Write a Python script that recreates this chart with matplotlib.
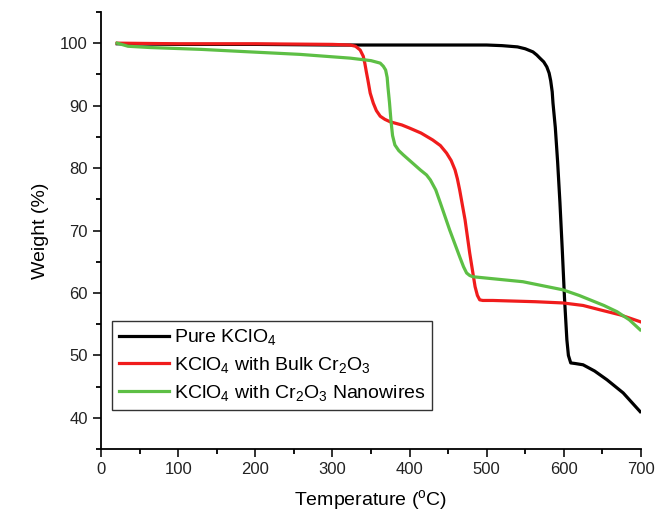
import numpy as np
import matplotlib.pyplot as plt
from matplotlib.ticker import MultipleLocator

plt.rcParams['font.family'] = ['Liberation Sans', 'DejaVu Sans']
plt.rcParams['mathtext.fontset'] = 'custom'
plt.rcParams['mathtext.rm'] = 'Liberation Sans'
plt.rcParams['mathtext.it'] = 'Liberation Sans'

pure_t = [21, 100, 200, 300, 400, 500, 520, 540, 550, 560, 565, 569, 574, 578, 581, 583,
          585, 586, 589, 592, 595, 598, 601, 604, 606, 609, 615, 625, 640, 656, 677, 699]
pure_w = [99.9, 99.8, 99.8, 99.7, 99.7, 99.7, 99.6, 99.4, 99.1, 98.6, 98.1, 97.6, 97.0, 96.2, 95.2, 94.0,
          92.2, 90.4, 86.5, 81.0, 74.5, 67.0, 59.0, 52.5, 50.0, 48.8, 48.7, 48.5, 47.5, 46.1, 44.0, 41.0]

bulk_t = [21, 100, 200, 300, 323, 330, 336, 340, 342, 344, 346, 349, 353, 357, 362, 368,
          375, 390, 400, 415, 430, 440, 448, 454, 459, 462, 465, 472, 478, 485, 488, 491,
          495, 508, 563, 599, 625, 647, 673, 699]
bulk_w = [100.0, 99.9, 99.9, 99.8, 99.7, 99.5, 98.9, 97.9, 96.8, 95.4, 94.1, 92.0, 90.4, 89.2, 88.3, 87.8,
          87.4, 86.9, 86.4, 85.6, 84.5, 83.6, 82.4, 81.2, 79.7, 78.3, 76.5, 71.7, 66.4, 61.0, 59.6, 58.9,
          58.8, 58.8, 58.6, 58.4, 58.0, 57.3, 56.5, 55.4]

nano_t = [21, 35, 63, 130, 193, 258, 323, 350, 362, 366, 369, 371, 372, 374, 376, 378,
          381, 386, 392, 403, 414, 422, 427, 434, 440, 452, 465, 470, 474, 478, 482, 547,
          599, 620, 634, 652, 669, 685, 699]
nano_w = [100.0, 99.5, 99.3, 99.0, 98.6, 98.2, 97.6, 97.2, 96.8, 96.3, 95.7, 94.5, 93.0, 90.5, 87.5, 85.2,
          83.7, 82.8, 82.1, 80.9, 79.7, 78.9, 78.1, 76.5, 74.4, 70.1, 65.8, 64.2, 63.2, 62.8, 62.6, 61.8,
          60.5, 59.6, 58.9, 58.0, 57.0, 55.7, 54.1]

labels = ['Pure KClO$_4$',
          'KClO$_4$ with Bulk Cr$_2$O$_3$',
          'KClO$_4$ with Cr$_2$O$_3$ Nanowires']

fig = plt.figure(figsize=(6.56, 5.18), dpi=100)
ax = fig.add_axes([0.154, 0.133, 0.823, 0.844])

ax.plot(pure_t, pure_w, color='black', lw=2.3, label=labels[0], solid_joinstyle='round')
ax.plot(bulk_t, bulk_w, color='#f01c1c', lw=2.3, label=labels[1], solid_joinstyle='round')
ax.plot(nano_t, nano_w, color='#5dbf45', lw=2.3, label=labels[2], solid_joinstyle='round')

ax.set_xlim(0, 700)
ax.set_ylim(35, 105)
ax.xaxis.set_major_locator(MultipleLocator(100))
ax.xaxis.set_minor_locator(MultipleLocator(50))
ax.yaxis.set_major_locator(MultipleLocator(10))
ax.yaxis.set_minor_locator(MultipleLocator(5))
ax.set_yticks([40, 50, 60, 70, 80, 90, 100])

ax.spines['top'].set_visible(False)
ax.spines['right'].set_visible(False)
for s in ['left', 'bottom']:
    ax.spines[s].set_linewidth(1.3)
ax.tick_params(which='major', direction='out', length=6, width=1.3, labelsize=12, colors='#222222')
ax.tick_params(which='minor', direction='out', length=3.5, width=1.3)

ax.set_xlabel('Temperature ($^{\\mathrm{o}}$C)', fontsize=14, labelpad=8)
ax.set_ylabel('Weight (%)', fontsize=14, labelpad=8)

leg = ax.legend(loc='lower left', bbox_to_anchor=(0.02, 0.09), fontsize=14,
                fancybox=False, edgecolor='#333333', framealpha=1,
                handlelength=2.6, handletextpad=0.25, labelspacing=0.4,
                borderpad=0.35, borderaxespad=0)
leg.get_frame().set_linewidth(1.0)

fig.savefig('out.png', dpi=100)
